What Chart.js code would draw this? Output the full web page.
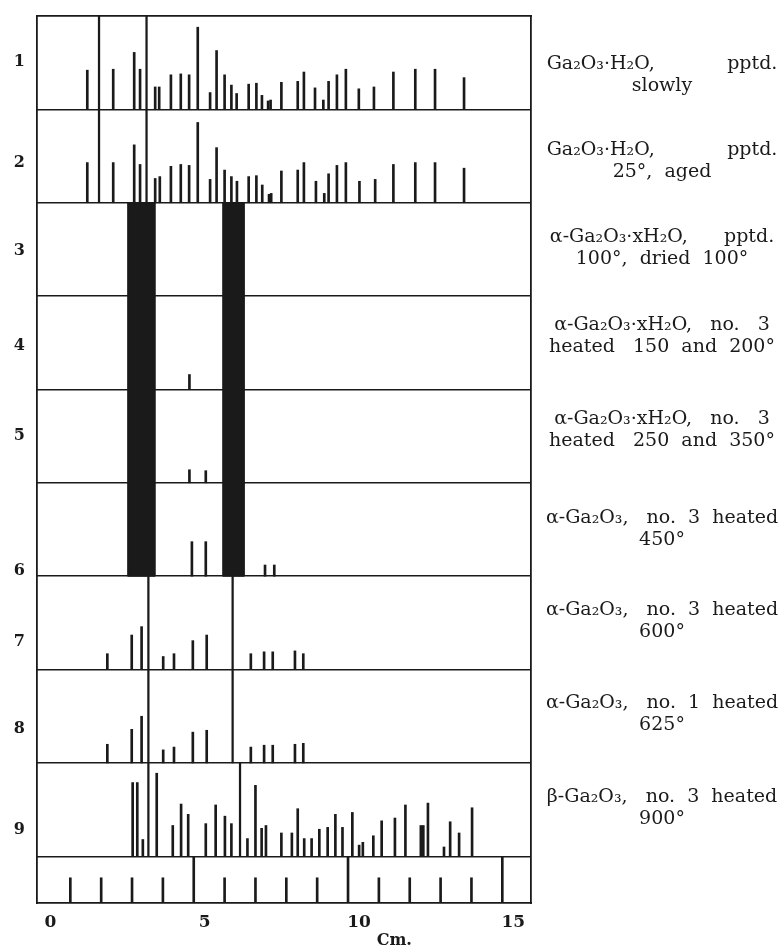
<!DOCTYPE html>
<html><head><meta charset="utf-8">
<script src="https://cdn.jsdelivr.net/npm/chart.js@4.4.1/dist/chart.umd.min.js"></script>
<style>html,body{margin:0;padding:0;background:#fff;}#wrap{width:781px;height:947px;}</style>
</head><body><div id="wrap"><canvas id="c" width="781" height="947"></canvas></div>
<script>
// ---- data (x in cm, intensities as fraction of a panel height) ----
const sampleNumbers = ['1','2','3','4','5','6','7','8','9'];
const sampleNumberPos = [9.01,7.93,6.99,5.97,5.00,3.56,2.80,1.86,0.78];
const sampleLabels = [
  ['Ga₂O₃·H₂O,            pptd.','slowly'],
  ['Ga₂O₃·H₂O,            pptd.','25°,  aged'],
  ['α-Ga₂O₃·xH₂O,      pptd.','100°,  dried  100°'],
  ['α-Ga₂O₃·xH₂O,   no.   3','heated   150  and  200°'],
  ['α-Ga₂O₃·xH₂O,   no.   3','heated   250  and  350°'],
  ['α-Ga₂O₃,   no.  3  heated','450°'],
  ['α-Ga₂O₃,   no.  3  heated','600°'],
  ['α-Ga₂O₃,   no.  1  heated','625°'],
  ['β-Ga₂O₃,   no.  3  heated','900°']
];
const sampleLabelPos = [8.87,7.95,7.01,6.07,5.07,4.01,3.02,2.02,1.02];
const axisTitle = 'Cm.';
const axisTitlePos = 11.5;
const panelBase = [8.5,7.5,6.5,5.5,4.5,3.5,2.5,1.5,0.5];
const panelBounds = [0.5,1.5,2.5,3.5,4.5,5.5,6.5,7.5,8.5];

const p1Pos = [1.55,2.39,3.07,3.26,3.75,3.88,4.26,4.58,4.85,5.13,5.53,5.74,6.00,6.22,6.39,6.78,7.03,7.21,7.41,7.49,7.84,8.37,8.57,8.93,9.20,9.37,9.64,9.93,10.35,10.84,11.47,12.18,12.82,13.76];
const p1Ht  = [0.42,0.43,0.61,0.43,0.24,0.24,0.37,0.38,0.37,0.88,0.18,0.63,0.37,0.26,0.17,0.27,0.28,0.15,0.09,0.10,0.29,0.30,0.40,0.23,0.10,0.30,0.37,0.43,0.22,0.24,0.40,0.43,0.43,0.34];
const p2Pos = [1.55,2.39,3.07,3.26,3.75,3.90,4.26,4.58,4.85,5.13,5.53,5.74,6.00,6.22,6.40,6.78,7.03,7.22,7.44,7.51,7.84,8.37,8.57,8.96,9.23,9.37,9.64,9.93,10.37,10.88,11.47,12.18,12.82,13.76];
const p2Ht  = [0.43,0.43,0.62,0.41,0.26,0.28,0.39,0.41,0.40,0.86,0.25,0.59,0.35,0.28,0.23,0.28,0.29,0.19,0.09,0.10,0.34,0.35,0.43,0.23,0.10,0.31,0.40,0.43,0.23,0.25,0.41,0.43,0.43,0.37];
const p3Pos = [];
const p3Ht  = [];
const p4Pos = [4.86];
const p4Ht  = [0.16];
const p5Pos = [4.86,5.39];
const p5Ht  = [0.14,0.13];
const p6Pos = [4.94,5.39,7.31,7.61];
const p6Ht  = [0.37,0.37,0.12,0.12];
const p7Pos = [2.20,2.99,3.31,4.01,4.36,4.97,5.42,6.85,7.28,7.56,8.28,8.55];
const p7Ht  = [0.17,0.37,0.46,0.14,0.17,0.31,0.37,0.17,0.19,0.19,0.20,0.17];
const p8Pos = [2.20,2.99,3.31,4.01,4.36,4.97,5.42,6.85,7.28,7.56,8.28,8.55];
const p8Ht  = [0.20,0.36,0.50,0.14,0.17,0.33,0.35,0.17,0.19,0.19,0.20,0.21];
const p9Pos = [3.02,3.17,3.35,3.80,4.32,4.59,4.82,5.39,5.71,6.01,6.22,6.74,7.00,7.20,7.34,7.84,8.18,8.37,8.58,8.82,9.07,9.34,9.59,9.82,10.14,10.36,10.48,10.82,11.09,11.52,11.86,12.36,12.44,12.59,13.11,13.31,13.60,14.02];
const p9Ht  = [0.79,0.79,0.18,0.89,0.33,0.56,0.45,0.35,0.55,0.43,0.35,0.19,0.76,0.30,0.33,0.25,0.25,0.51,0.19,0.19,0.29,0.31,0.45,0.31,0.47,0.12,0.15,0.22,0.38,0.41,0.55,0.33,0.33,0.57,0.10,0.37,0.25,0.52];

// reference (film) lines spanning whole panels
const refPos  = [1.93,3.47,3.53,6.26,6.50];
const refFrom = [7.5,7.5,0.5,1.5,0.5];
const refTo   = [9.5,9.5,3.5,3.5,1.5];

// diffuse black bands of samples 3-6
const bandStart = [2.86,5.94];
const bandEnd   = [3.74,6.63];
const bandFrom  = 3.5;
const bandTo    = 7.5;

// cm scale strip
const scalePos = [1,2,3,4,5,6,7,8,9,10,11,12,13,14,15];
const scaleHt  = [0.27,0.27,0.27,0.27,0.5,0.27,0.27,0.27,0.27,0.5,0.27,0.27,0.27,0.27,0.5];
const xTickLabels = [0,5,10,15];

// ---- build ----
const INK = '#1a1a1a';
const SERIF = '"DejaVu Serif", "Liberation Serif", serif';
const panelPos = [p1Pos,p2Pos,p3Pos,p4Pos,p5Pos,p6Pos,p7Pos,p8Pos,p9Pos];
const panelHt  = [p1Ht,p2Ht,p3Ht,p4Ht,p5Ht,p6Ht,p7Ht,p8Ht,p9Ht];

function stickDataset(data, w){
  return {type:'bar', data, backgroundColor:INK, borderWidth:0, barThickness:w,
          grouped:false, xAxisID:'x', yAxisID:'y', order:1};
}
const datasets = [];
bandStart.forEach((s,i)=>{
  const e = bandEnd[i];
  datasets.push({type:'line', xAxisID:'x', yAxisID:'y', order:2,
    data:[{x:s,y:bandFrom},{x:s,y:bandTo},{x:e,y:bandTo},{x:e,y:bandFrom},{x:s,y:bandFrom}],
    fill:'shape', backgroundColor:INK, borderColor:INK, borderWidth:1,
    pointRadius:0, pointHoverRadius:0, tension:0});
});
panelPos.forEach((pos,k)=>{
  const base = panelBase[k];
  datasets.push(stickDataset(pos.map((x,i)=>({x, y:[base, base+panelHt[k][i]]})), 2));
});
datasets.push(stickDataset(refPos.map((x,i)=>({x, y:[refFrom[i], refTo[i]]})), 1.6));
datasets.push(stickDataset(scalePos.map((x,i)=>({x, y:[0, scaleHt[i]]})), 2));

const labelPlugin = {
  id:'sampleLabels',
  afterDraw(chart){
    const ctx = chart.ctx, ys = chart.scales.y, xs = chart.scales.x, ca = chart.chartArea;
    const cx = ca.right + 131;
    ctx.save();
    ctx.font = '19px ' + SERIF;
    ctx.fillStyle = INK; ctx.textAlign = 'center'; ctx.textBaseline = 'middle';
    sampleLabels.forEach((lines,i)=>{
      const yc = ys.getPixelForValue(sampleLabelPos[i]);
      lines.forEach((t,j)=> ctx.fillText(t, cx, yc + (j - (lines.length-1)/2) * 22));
    });
    // axis unit title, placed under the scale strip
    ctx.font = 'bold 16px ' + SERIF;
    ctx.fillText(axisTitle, xs.getPixelForValue(axisTitlePos), ca.bottom + 38);
    ctx.restore();
  }
};

const X_MIN = -0.08, X_MAX = 15.93;
new Chart(document.getElementById('c'), {
  type:'bar',
  data:{datasets},
  options:{
    responsive:false, animation:false, devicePixelRatio:1,
    layout:{padding:0, autoPadding:false},
    plugins:{legend:{display:false}, tooltip:{enabled:false}},
    scales:{
      x:{type:'linear', position:'bottom', min:X_MIN, max:X_MAX, offset:false,
         grid:{display:false, drawTicks:false, offset:false},
         border:{display:true, color:INK, width:1.8},
         afterBuildTicks: s => { s.ticks = xTickLabels.map(v=>({value:v})); },
         ticks:{autoSkip:false, maxRotation:0, labelOffset:11, padding:9, color:INK,
                font:{family:SERIF, size:17, weight:'bold'}},
         title:{display:false},
         afterFit: s => { s.height = 44; s.paddingLeft = 0; s.paddingRight = 0; }},
      xTop:{type:'linear', position:'top', min:X_MIN, max:X_MAX, offset:false,
         grid:{display:false, drawTicks:false}, ticks:{display:false},
         border:{display:true, color:INK, width:1.8},
         afterFit: s => { s.height = 16; }},
      y:{type:'linear', position:'left', min:0, max:9.5,
         grid:{display:false, drawTicks:false},
         border:{display:true, color:INK, width:1.8},
         afterBuildTicks: s => { s.ticks = sampleNumberPos.map(v=>({value:v})); },
         ticks:{autoSkip:false, padding:12, color:INK, font:{family:SERIF, size:16, weight:'bold'},
                callback: v => sampleNumbers[sampleNumberPos.indexOf(v)]},
         afterFit: s => { s.width = 37; s.paddingTop = 0; s.paddingBottom = 0; }},
      yGrid:{type:'linear', position:'left', min:0, max:9.5,
         grid:{display:true, drawTicks:false, color:INK, lineWidth:1.6},
         border:{display:false}, ticks:{display:false},
         afterBuildTicks: s => { s.ticks = panelBounds.map(v=>({value:v})); },
         afterFit: s => { s.width = 0; s.paddingTop = 0; s.paddingBottom = 0; }},
      yRight:{type:'linear', position:'right', min:0, max:9.5,
         grid:{display:false, drawTicks:false}, ticks:{display:false},
         border:{display:true, color:INK, width:1.8},
         afterFit: s => { s.width = 250; s.paddingTop = 0; s.paddingBottom = 0; }}
    }
  },
  plugins:[labelPlugin]
});
</script></body></html>
